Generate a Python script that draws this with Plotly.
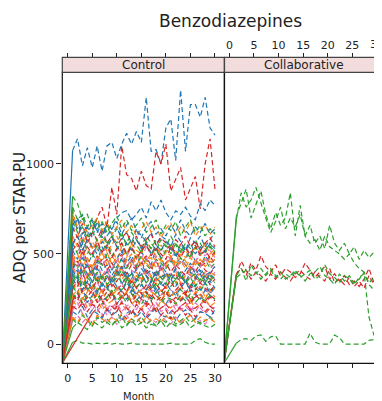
import plotly.graph_objects as go

# ---------------- data ----------------
months = list(range(1, 31))
collab_months = [m + 0.4 for m in months]
origin_month = -1.1
origin_value = -107
tick_months = [0, 5, 10, 15, 20, 25, 30]
tick_values = [0, 500, 1000]

ctrl_blue = [
    [1074,1140,990,1090,980,1100,960,1100,1120,1030,1110,1170,1110,1180,1120,1370,1070,1080,1000,1200,1250,1020,1410,1070,1330,1330,1260,1370,1200,1160],
    [620,700,560,650,590,680,610,660,640,700,730,740,690,720,760,700,790,740,800,730,690,740,720,760,710,690,780,740,800,770],
    [520,470,560,430,500,460,540,480,410,470,520,450,490,430,510,470,440,530,480,420,460,500,440,480,520,460,430,490,450,470],
    [380,340,410,300,360,390,320,370,350,410,330,380,300,350,390,340,310,370,330,400,360,320,380,340,300,360,390,330,350,310],
    [280,250,310,230,270,300,240,260,290,220,270,250,300,240,280,230,260,310,250,220,270,290,240,260,230,280,250,300,270,240],
    [700,640,720,600,680,630,590,660,610,650,580,620,560,640,600,570,620,550,600,580,540,610,570,520,590,560,600,540,580,620],
    [180,160,210,150,190,170,140,200,160,180,130,170,190,150,180,140,170,200,160,150,180,130,170,190,160,140,180,170,150,190],
    [450,400,480,420,390,460,410,440,380,430,470,400,360,420,450,390,410,370,440,400,380,420,360,410,450,390,420,380,400,430],
    [330,380,300,350,310,280,340,300,360,320,290,340,310,270,330,300,350,290,320,340,300,270,310,350,290,330,300,340,280,320],
    [410,360,440,390,350,420,370,400,340,380,430,360,400,350,420,380,340,410,370,390,350,420,380,340,400,370,410,350,390,360],
    [560,600,520,580,540,500,570,530,590,540,510,560,520,580,530,560,500,550,520,570,530,490,550,520,560,500,540,510,560,530],
    [660,700,610,650,690,620,670,600,640,680,610,660,700,630,590,650,680,610,640,600,660,620,690,630,600,650,620,670,610,640],
]
ctrl_orange = [
    [750,620,560,600,530,580,500,550,520,470,540,500,560,480,520,460,500,540,470,510,490,450,520,480,500,460,490,530,470,500],
    [420,380,440,360,400,430,370,410,350,390,420,380,340,400,360,410,380,350,420,390,360,400,340,380,410,370,390,350,400,380],
    [300,340,280,320,260,310,290,330,270,300,250,290,320,280,260,310,290,270,300,320,260,290,310,270,300,280,320,260,290,310],
    [600,540,620,500,570,520,590,510,550,600,530,480,560,520,500,570,530,490,550,510,540,500,560,520,480,540,510,560,500,530],
    [240,210,260,200,230,250,190,220,240,200,230,180,220,250,200,230,210,190,240,220,200,230,190,210,240,200,220,250,210,230],
    [360,400,330,380,420,350,390,330,370,410,360,390,340,380,350,400,370,330,390,360,400,340,370,350,390,330,360,400,350,380],
    [500,450,520,470,430,490,460,510,440,480,420,470,500,440,480,450,420,490,460,430,480,440,500,460,420,470,440,480,450,470],
    [150,120,170,130,110,160,140,120,150,130,170,120,140,160,110,150,130,140,120,160,130,150,110,140,160,120,150,130,140,120],
    [460,500,430,480,420,470,510,440,490,450,410,470,440,500,430,460,480,420,470,440,490,430,460,420,480,440,470,430,460,450],
    [270,300,250,290,320,260,300,240,280,310,260,290,240,280,300,250,290,270,240,290,260,300,250,280,240,290,270,250,300,260],
    [720,650,690,620,660,700,630,680,610,650,690,620,660,600,640,680,620,650,590,640,670,610,650,620,680,600,640,660,610,650],
]
ctrl_green = [
    [10,20,5,5,0,5,0,5,0,5,0,0,5,0,0,0,0,0,0,0,5,0,0,0,0,20,30,10,0,0],
    [820,780,690,720,640,700,620,660,590,640,600,560,620,580,540,600,560,520,580,540,600,550,510,560,530,580,520,560,540,500],
    [460,420,490,440,400,470,430,500,450,410,480,420,460,430,490,440,410,470,450,420,460,430,480,440,410,460,430,470,420,450],
    [320,280,350,300,330,290,340,310,270,320,300,350,290,320,340,280,310,330,300,270,320,350,300,280,330,310,290,340,300,320],
    [140,110,160,130,100,150,120,140,110,130,160,100,140,120,150,110,130,100,140,120,150,110,130,150,120,140,110,130,150,120],
    [560,500,580,520,480,550,510,570,490,530,560,500,540,480,520,560,500,530,470,520,550,490,530,510,480,540,500,520,560,510],
    [250,290,230,270,240,280,220,260,300,240,270,230,280,250,220,270,240,290,230,260,250,220,270,240,280,230,260,240,270,250],
    [390,350,420,370,340,400,360,380,330,370,410,350,390,360,340,380,350,400,370,330,380,360,400,340,370,390,350,380,360,340],
    [90,120,100,80,130,110,90,120,100,140,90,110,130,100,120,90,110,100,130,90,120,100,110,130,90,110,120,100,90,110],
    [680,620,650,590,630,570,610,550,600,560,620,540,580,550,510,570,530,580,520,550,500,560,520,540,490,530,560,510,540,520],
    [350,390,320,370,410,340,380,330,360,400,340,370,320,360,390,340,370,310,350,380,330,360,390,340,370,320,360,340,380,350],
    [760,690,720,650,700,640,680,620,670,710,640,690,630,660,700,620,650,690,610,660,630,680,600,650,690,620,660,600,640,610],
]
ctrl_red = [
    [550,600,520,580,620,700,760,650,870,720,1100,940,920,850,960,880,860,1070,1000,1110,850,910,980,800,870,930,750,1000,1140,860],
    [480,430,510,450,420,490,440,470,410,460,500,430,470,420,450,490,430,460,410,450,480,420,460,440,410,470,430,450,490,440],
    [360,320,390,340,310,370,330,380,320,350,390,330,360,310,350,380,320,370,340,310,360,390,330,350,320,370,340,380,330,360],
    [270,240,300,260,230,280,250,290,240,270,300,250,280,230,260,290,250,270,240,280,260,230,270,290,250,260,280,240,270,250],
    [None,None,None,None,170,200,150,190,160,210,170,140,190,160,200,150,180,210,160,190,140,180,200,160,190,150,180,170,200,160],
    [650,590,670,560,620,580,640,560,600,540,590,620,560,600,530,580,610,550,590,560,520,580,550,600,540,570,520,560,590,540],
    [420,460,400,440,380,430,470,410,450,400,430,390,440,410,460,400,430,380,420,450,400,440,410,380,430,400,450,410,390,430],
    [310,350,290,330,300,360,280,320,340,300,330,290,350,310,280,330,300,340,290,320,350,300,330,280,320,300,340,310,290,330],
    [210,190,230,180,220,200,240,190,210,180,230,200,170,220,190,210,240,180,200,220,190,170,210,230,190,200,220,180,210,190],
    [520,560,490,540,500,570,510,550,480,530,560,500,540,470,520,550,490,530,500,470,540,510,480,530,500,550,490,520,480,510],
    [240,280,220,260,300,230,270,240,290,220,260,280,230,270,250,220,280,240,260,300,230,260,240,280,220,270,250,230,260,240],
]
ctrl_pink = [
    [430,390,450,370,410,440,380,420,360,400,430,370,410,390,350,420,380,400,430,370,390,410,360,400,380,420,370,400,350,390],
    [330,290,350,310,280,340,300,320,270,310,340,290,320,280,300,330,290,310,270,320,300,280,330,290,310,270,320,300,280,310],
    [220,260,200,240,190,230,250,200,220,180,240,210,230,190,250,210,180,230,200,220,240,190,210,230,200,180,220,240,210,200],
    [130,160,120,150,100,140,170,120,150,110,140,160,120,130,150,110,140,120,160,130,110,150,120,140,160,120,130,110,150,140],
    [560,510,590,530,490,550,500,540,480,520,560,490,530,500,470,540,510,480,530,500,470,520,490,540,500,460,510,490,520,480],
    [380,420,360,400,340,390,360,410,350,380,420,360,390,340,380,410,350,390,370,340,390,360,400,350,370,390,340,380,360,400],
    [470,430,500,450,410,480,440,470,420,460,490,430,470,410,450,480,430,460,410,450,470,420,460,440,400,460,430,470,440,420],
    [190,230,170,210,240,180,220,160,200,230,180,210,170,220,190,160,210,230,180,200,170,220,190,210,180,230,200,170,210,190],
]

collab_green = [
    [707,780,860,700,780,850,720,640,730,660,700,840,600,770,600,660,560,600,530,660,560,520,560,500,540,470,520,480,510,560],
    [690,840,760,800,870,780,700,620,680,760,640,700,650,720,600,560,580,520,600,540,520,500,470,500,450,420,400,150,50,40],
    [380,420,350,440,390,420,380,410,370,400,360,380,410,370,390,410,360,380,440,390,370,340,380,360,330,370,390,340,370,320],
    [370,390,410,380,400,360,390,420,380,360,390,370,400,380,350,390,400,430,380,360,330,390,350,380,340,360,400,330,300,260],
    [5,25,30,20,45,50,15,40,45,0,0,0,0,0,0,60,10,0,0,0,50,35,0,0,0,0,0,20,25,0],
]
collab_red = [
    [390,420,380,450,410,490,430,400,440,380,420,400,370,390,450,410,370,400,430,360,390,350,380,330,350,320,360,420,340,290],
    [380,460,410,360,400,380,350,390,360,400,370,350,390,410,380,360,400,370,350,420,340,360,330,370,320,350,310,380,330,300],
]

colors = {"blue": "#1f77b4", "orange": "#ff7f0e", "green": "#2ca02c",
          "red": "#d62728", "pink": "#e377c2"}

# ---------------- layout geometry (reference pixels) ----------------
OFF = 8                      # page body margin offset
W, H = 382 - OFF, 401 - OFF
def px(x):
    return (x - OFF) / W
def py(y):
    return 1 - (y - OFF) / H

panel_top, panel_bot = 72.3, 363.3
strip_top = 57.3
c_left, c_right = 62.3, 224.3
k_left, k_right = 224.5, 382.0

fig = go.Figure()
DASH = "5px,3px"
LW = 1.2

def add_subject(vals, xs, color, xa, ya):
    first = next(i for i, v in enumerate(vals) if v is not None)
    fig.add_trace(go.Scatter(x=[origin_month, xs[first]], y=[origin_value, vals[first]],
                             mode="lines", line=dict(color=color, width=LW),
                             xaxis=xa, yaxis=ya, showlegend=False, hoverinfo="skip"))
    fig.add_trace(go.Scatter(x=xs[first:], y=vals[first:], mode="lines",
                             line=dict(color=color, width=LW, dash=DASH),
                             xaxis=xa, yaxis=ya, showlegend=False, hoverinfo="skip"))

groups = [(ctrl_blue, "blue"), (ctrl_orange, "orange"), (ctrl_green, "green"),
          (ctrl_red, "red"), (ctrl_pink, "pink")]
nmax = max(len(g) for g, _ in groups)
for i in range(nmax):
    for g, c in groups:
        if i < len(g):
            add_subject(g[i], months, colors[c], "x", "y")

for i in range(max(len(collab_green), len(collab_red))):
    if i < len(collab_green):
        add_subject(collab_green[i], collab_months, colors["green"], "x2", "y2")
    if i < len(collab_red):
        add_subject(collab_red[i], collab_months, colors["red"], "x2", "y2")

# dummy traces so top axes render
fig.add_trace(go.Scatter(x=[None], y=[None], xaxis="x3", yaxis="y", showlegend=False))
fig.add_trace(go.Scatter(x=[None], y=[None], xaxis="x4", yaxis="y2", showlegend=False))

FONT = "DejaVu Sans"
tickfont = dict(family=FONT, size=11, color="#222")
ctrl_range = [-1.1, 31.9]
coll_range = [-1.0, 31.05]
yrange = [-107, 1509]

fig.update_layout(
    width=W, height=H, margin=dict(l=0, r=0, t=0, b=0),
    paper_bgcolor="white", plot_bgcolor="white",
    xaxis=dict(domain=[px(c_left), px(c_right)], range=ctrl_range, tickvals=tick_months,
               ticks="outside", ticklen=4, tickcolor="#222", showline=False, showgrid=False,
               zeroline=False, tickfont=tickfont, anchor="y"),
    xaxis2=dict(domain=[px(k_left), 1.0], range=coll_range, tickvals=tick_months,
                ticks="outside", ticklen=4, tickcolor="#222", showticklabels=False,
                showline=False, showgrid=False, zeroline=False, anchor="y2"),
    xaxis3=dict(overlaying="x", range=ctrl_range, tickvals=tick_months, side="top",
                anchor="free", position=py(strip_top), ticks="outside", ticklen=4,
                tickcolor="#222", showticklabels=False, showline=False, showgrid=False,
                zeroline=False),
    xaxis4=dict(overlaying="x2", range=coll_range, tickvals=tick_months, side="top",
                anchor="free", position=py(strip_top), ticks="outside", ticklen=4,
                tickcolor="#222", showticklabels=True, tickfont=tickfont, showline=False,
                showgrid=False, zeroline=False),
    yaxis=dict(domain=[py(panel_bot), py(panel_top)], range=yrange, tickvals=tick_values,
               ticks="outside", ticklen=5, tickcolor="#222", showline=False, showgrid=False,
               zeroline=False, tickfont=tickfont, anchor="x"),
    yaxis2=dict(domain=[py(panel_bot), py(panel_top)], range=yrange, showticklabels=False,
                ticks="", showline=False, showgrid=False, zeroline=False, anchor="x2"),
)

shapes = []
for l, r in [(c_left, c_right), (k_left, k_right + 8)]:
    shapes.append(dict(type="rect", xref="paper", yref="paper", x0=px(l), x1=px(r),
                       y0=py(panel_bot), y1=py(panel_top), line=dict(color="#111", width=1.2)))
    shapes.append(dict(type="rect", xref="paper", yref="paper", x0=px(l), x1=px(r),
                       y0=py(panel_top), y1=py(strip_top), fillcolor="#f3dcdc",
                       line=dict(color="#444", width=1.2)))
fig.update_layout(shapes=shapes)

def label(text, x, y, size, angle=0):
    return dict(text=text, x=px(x), y=py(y), xref="paper", yref="paper",
                xanchor="center", yanchor="middle", showarrow=False, textangle=angle,
                font=dict(family=FONT, size=size, color="#222"))

ann = [
    label("Benzodiazepines", 230, 21, 17),
    label("Control", (c_left + c_right) / 2, (panel_top + strip_top) / 2, 12),
    label("Collaborative", 303.5, (panel_top + strip_top) / 2, 12),
    label("ADQ per STAR-PU", 20, 218, 15, -90),
    label("Month", 138, 396, 10),
    # last top tick label, partly cut by the right edge as in the reference
    dict(text=str(tick_months[-1]), x=tick_months[-1], xref="x2", y=py(44), yref="paper",
         xanchor="center", yanchor="middle", showarrow=False, font=tickfont),
]
fig.update_layout(annotations=ann)

fig.write_html("out.html")
